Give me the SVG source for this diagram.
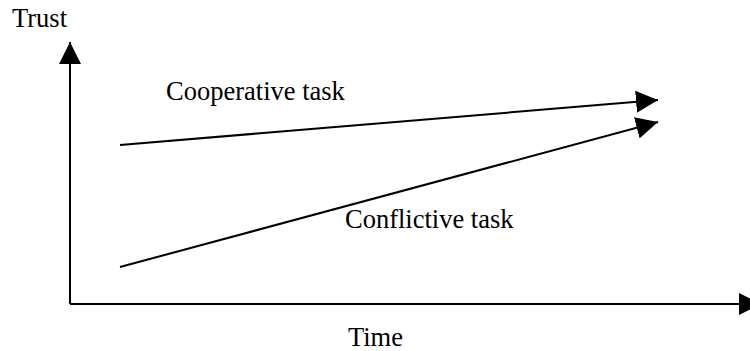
<svg xmlns="http://www.w3.org/2000/svg" width="750" height="351" viewBox="0 0 750 351">
<style>
text{font-family:"Liberation Serif","Times New Roman",serif;font-size:26.5px;fill:#000}
.ln{stroke:#000;stroke-width:2;fill:none}
</style>
<defs>
<marker id="ah" markerUnits="userSpaceOnUse" markerWidth="22" markerHeight="22" refX="20" refY="10" orient="auto" viewBox="0 0 20 20">
<path d="M0,0 L20,10 L0,20 Z" fill="#000"/>
</marker>
</defs>
<rect width="750" height="351" fill="#fff"/>
<g id="connectors">
<path class="ln" d="M70,304 L70,42" marker-end="url(#ah)"/>
<path class="ln" d="M70,304 L761,304" marker-end="url(#ah)"/>
<path class="ln" d="M120,145 L658,100" marker-end="url(#ah)"/>
<path class="ln" d="M120,267 L658,122" marker-end="url(#ah)"/>
</g>
<g id="labels">
<text x="12" y="27">Trust</text>
<text x="166" y="100">Cooperative task</text>
<text x="345" y="228">Conflictive task</text>
<text x="348" y="346">Time</text>
</g>
</svg>
